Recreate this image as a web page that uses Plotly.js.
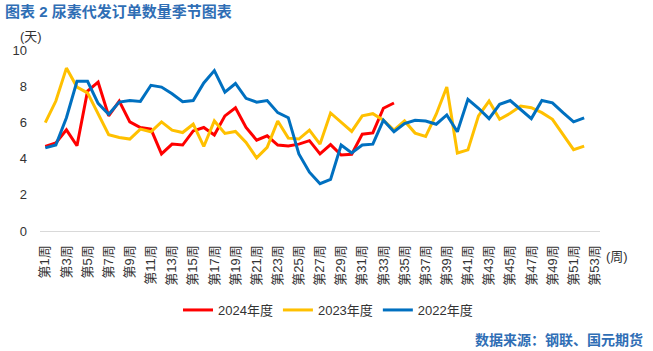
<!DOCTYPE html>
<html>
<head>
<meta charset="utf-8">
<script src="https://cdn.plot.ly/plotly-3.0.1.min.js"></script>
<style>html,body{margin:0;padding:0;background:#fff;}#chart{width:653px;height:351px;}</style>
</head>
<body>
<div id="chart"></div>
<script>
const weeks = ['第1周','第2周','第3周','第4周','第5周','第6周','第7周','第8周','第9周','第10周',
  '第11周','第12周','第13周','第14周','第15周','第16周','第17周','第18周','第19周','第20周',
  '第21周','第22周','第23周','第24周','第25周','第26周','第27周','第28周','第29周','第30周',
  '第31周','第32周','第33周','第34周','第35周','第36周','第37周','第38周','第39周','第40周',
  '第41周','第42周','第43周','第44周','第45周','第46周','第47周','第48周','第49周','第50周',
  '第51周','第52周','第53周'];
const tickLabels = ['第1周','第3周','第5周','第7周','第9周','第11周','第13周','第15周','第17周','第19周',
  '第21周','第23周','第25周','第27周','第29周','第31周','第33周','第35周','第37周','第39周',
  '第41周','第43周','第45周','第47周','第49周','第51周','第53周'];
const yTicks = [0, 2, 4, 6, 8, 10];

const y2024 = [4.67,4.86,5.59,4.71,7.73,8.22,6.36,7.18,6.03,5.72,
  5.63,4.26,4.80,4.75,5.53,5.72,5.30,6.36,6.81,5.72,
  5.02,5.26,4.75,4.70,4.80,4.99,4.26,4.77,4.20,4.24,
  5.35,5.42,6.78,7.07];
const y2023 = [5.99,7.18,9.00,7.95,7.63,6.45,5.32,5.17,5.08,5.63,
  5.48,6.03,5.57,5.44,5.90,4.67,6.08,5.39,5.50,4.89,
  4.04,4.62,6.08,5.13,5.08,5.57,4.80,6.52,5.99,5.50,
  6.36,6.48,6.12,5.57,6.08,5.41,5.22,6.45,7.96,4.31,
  4.48,6.36,7.18,6.17,6.50,6.90,6.81,6.54,6.17,5.35,
  4.49,4.69];
const y2022 = [4.59,4.75,6.26,8.27,8.27,7.05,6.45,7.12,7.21,7.16,
  8.05,7.95,7.58,7.14,7.21,8.18,8.86,7.67,8.15,7.33,
  7.12,7.21,6.54,6.26,4.26,3.25,2.61,2.85,4.75,4.31,
  4.75,4.80,6.12,5.48,5.93,6.12,6.08,5.90,6.41,5.48,
  7.27,6.78,6.21,7.00,7.21,6.72,6.21,7.21,7.08,6.54,
  6.03,6.25];

const seriesNames = ['2024年度','2023年度','2022年度'];
const seriesColors = ['#ff0000','#ffc000','#0070c0'];
const seriesData = [y2024, y2023, y2022];

const FONT = 'Liberation Sans, Arial, "Noto Sans CJK SC", sans-serif';

const traces = seriesData.map((d, i) => ({
  type: 'scatter',
  mode: 'lines',
  name: seriesNames[i],
  x: weeks.slice(0, d.length),
  y: d,
  line: {color: seriesColors[i], width: 3}
}));

const L = 40, R = 600, T = 50, B = 231;
const px = x => (x - L) / (R - L);
const py = y => (B - y) / (B - T);

const layout = {
  width: 653, height: 351,
  margin: {l: L, r: 653 - R, t: T, b: 351 - B, pad: 0},
  paper_bgcolor: '#fff', plot_bgcolor: '#fff',
  font: {family: FONT, size: 13, color: '#333'},
  showlegend: true,
  title: {
    text: '图表 2 尿素代发订单数量季节图表',
    x: 5 / 653, xanchor: 'left', xref: 'container',
    y: 1 - 12 / 351, yanchor: 'middle', yref: 'container',
    font: {family: FONT, size: 15, color: '#2f6eb5', weight: 'bold'}
  },
  xaxis: {
    type: 'category',
    categoryorder: 'array', categoryarray: weeks,
    range: [-0.5, 52.5],
    tickmode: 'array', tickvals: tickLabels, ticktext: tickLabels,
    tickangle: -90,
    ticks: '', ticklabelstandoff: 8,
    showline: true, linecolor: '#d9d9d9', linewidth: 1,
    showgrid: false, zeroline: false,
    tickfont: {family: FONT, size: 13, color: '#333'},
    fixedrange: true
  },
  yaxis: {
    range: [0, 10],
    tickmode: 'array', tickvals: yTicks,
    ticks: '', ticklabelstandoff: 12,
    showline: false, showgrid: false, zeroline: false,
    tickfont: {family: FONT, size: 13, color: '#333'},
    fixedrange: true
  },
  legend: {
    orientation: 'h',
    x: px(328), xanchor: 'center',
    y: py(310), yanchor: 'middle',
    font: {family: FONT, size: 13, color: '#333'},
    bgcolor: 'rgba(0,0,0,0)'
  },
  annotations: [
    {text: '(天)', xref: 'paper', yref: 'paper', x: px(31), y: py(36),
     xanchor: 'center', yanchor: 'middle', showarrow: false,
     font: {family: FONT, size: 13, color: '#333'}},
    {text: '(周)', xref: 'paper', yref: 'paper', x: px(617), y: py(256),
     xanchor: 'center', yanchor: 'middle', showarrow: false,
     font: {family: FONT, size: 13, color: '#333'}},
    {text: '数据来源：钢联、国元期货', xref: 'paper', yref: 'paper', x: px(645), y: py(340),
     xanchor: 'right', yanchor: 'middle', showarrow: false,
     font: {family: FONT, size: 14, color: '#2f6eb5', weight: 'bold'}}
  ]
};

Plotly.newPlot('chart', traces, layout, {displayModeBar: false, staticPlot: true});
</script>
</body>
</html>
